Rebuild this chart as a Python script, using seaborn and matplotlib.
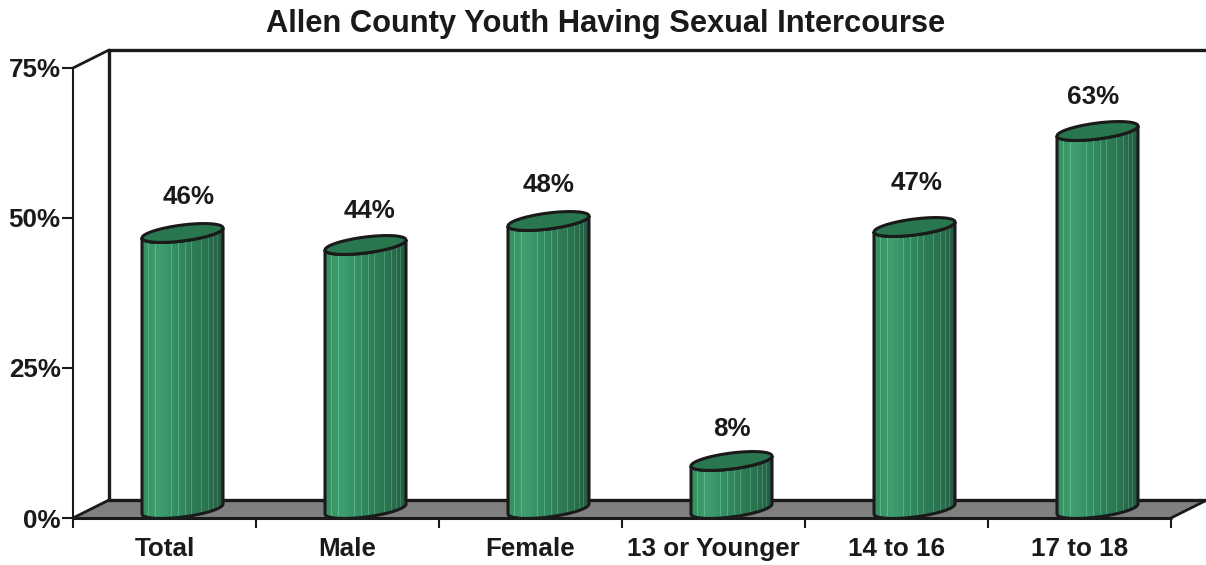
import numpy as np
import pandas as pd
import seaborn as sns
from matplotlib import pyplot as plt
from matplotlib.colors import LinearSegmentedColormap
from matplotlib.patches import Polygon, PathPatch
from matplotlib.path import Path

categories = ['Total', 'Male', 'Female', '13 or Younger', '14 to 16', '17 to 18']
values = [46, 44, 48, 8, 47, 63]
y_ticks = [0, 25, 50, 75]
# tweak of each value label from its default spot, in px
label_dx = [6, 4, 0, 0, 2, -4]
label_dy = [36, 34, 36, 32, 44, 34]

sns.set_theme(style='white')
plt.rcParams['font.family'] = ['Liberation Sans', 'DejaVu Sans']
plt.rcParams['font.weight'] = 'bold'
plt.rcParams['text.color'] = 'black'

W, H = 1206, 565
fig = plt.figure(figsize=(W / 100, H / 100), dpi=100)
# front plane of the fake 3d box
ax = fig.add_axes([73 / W, 1 - 518 / H, 1098 / W, 450 / H])

df = pd.DataFrame({'group': categories, 'value': values})
sns.barplot(data=df, x='group', y='value', ax=ax, width=0.443, color='#2e8b5e', saturation=1)
ax.set_xlim(-0.5, 5.5)
ax.set_ylim(0, 75)

px_x = 6 / 1098   # data units per pixel, x axis
px_y = 75 / 450
dx = 36 * px_x
dy = 18 * px_y

# walls and floor
x0, x1 = -0.5, 5.5
ax.add_patch(Polygon([(x0, 0), (x1, 0), (x1 + dx, dy), (x0 + dx, dy)], closed=True, fc='#808080', ec='none',
                     clip_on=False, zorder=0.5))
ax.plot([x0, x1], [0, 0], color='k', lw=2.2, clip_on=False, zorder=1)
ax.plot([x1, x1 + dx], [0, dy], color='k', lw=2, clip_on=False, zorder=1)
ax.plot([x0, x0 + dx], [0, dy], color='k', lw=2, clip_on=False, zorder=1)
ax.plot([x0 + dx, x1 + dx], [dy, dy], color='k', lw=2.4, clip_on=False, zorder=1)
ax.plot([x0 + dx, x0 + dx], [dy, 75 + dy], color='k', lw=2.4, clip_on=False, zorder=1)
ax.plot([x0 + dx, x1 + dx], [75 + dy, 75 + dy], color='k', lw=2.4, clip_on=False, zorder=1)
ax.plot([x0, x0 + dx], [75, 75 + dy], color='k', lw=2, clip_on=False, zorder=1)

cmap = LinearSegmentedColormap.from_list('cyl', ['#35905f', '#3f9f70', '#348e63', '#2e7f58', '#2a7350', '#235c42'])
# light streaks on the cylinder
shade = cmap(np.linspace(0, 1, 82))[np.newaxis, :, :]
streaks = [6, 13, 29, 36, 44, 50, 60, 67, 72, 76]
shade[0, streaks, :3] = np.clip(shade[0, streaks, :3] + 0.12, 0, 1)

a = 40.5 * px_x
b = 8 * px_y
k = 5 * px_y
t = np.linspace(0, 2 * np.pi, 120)


def rim(cx, cy, tt):
    return np.column_stack([cx + a * np.cos(tt), cy + b * np.sin(tt) + k * np.cos(tt)])


for i, bar in enumerate(list(ax.patches)[:len(values)]):
    bar.set_visible(False)
    cx = bar.get_x() + bar.get_width() / 2 + dx / 2
    base = dy / 2
    top = bar.get_height() + base
    # outline: up the left side, over the top rim, down, along the lower rim
    tlow = np.linspace(np.pi, 2 * np.pi, 60)
    low = rim(cx, base, tlow)
    up = rim(cx, top, tlow[::-1])
    path = Path(np.vstack([low, up, low[:1]]))
    ax.add_patch(PathPatch(path, fc='none', ec='k', lw=2.2, zorder=3, clip_on=False))
    im = ax.imshow(shade, extent=[cx - a, cx + a, base - 2.5, top + 2.5], aspect='auto', zorder=2,
                   interpolation='nearest')
    im.set_clip_path(PathPatch(path, transform=ax.transData))
    ax.add_patch(Polygon(rim(cx, top, t), closed=True, fc='#29774f', ec='k', lw=2.2, zorder=4, clip_on=False))
    ax.annotate(f'{values[i]}%', (cx, top), xytext=(label_dx[i] * 0.72, label_dy[i] * 0.72),
                textcoords='offset points', ha='center', va='center', fontsize=18.7, fontweight='bold', color='k',
                annotation_clip=False)

ax.set_xlim(-0.5, 5.5)
ax.set_ylim(0, 75)
sns.despine(ax=ax, top=True, right=True, bottom=True, left=False)
ax.spines['left'].set_color('k')
ax.spines['left'].set_linewidth(1.5)

ax.set_yticks(y_ticks)
ax.set_yticklabels([f'{v}%' for v in y_ticks], fontsize=18.7, fontweight='bold', color='k')
ax.tick_params(axis='y', left=True, length=8, width=1.5, color='k', pad=1)

ax.set_xticks(range(len(categories)))
ax.set_xticklabels(categories, fontsize=18.7, fontweight='bold', color='k')
ax.tick_params(axis='x', bottom=False, pad=8)
ax.set_xticks(np.arange(-0.5, 5.6, 1), minor=True)
ax.tick_params(axis='x', which='minor', bottom=True, length=7, width=1.5, color='k')
ax.set_xlabel('')
ax.set_ylabel('')
ax.patch.set_alpha(0)

fig.text(606 / W, 1 - 24 / H, 'Allen County Youth Having Sexual Intercourse', ha='center', va='center',
         fontsize=22.2, fontweight='bold', color='k')

fig.savefig('out.png', dpi=100)
